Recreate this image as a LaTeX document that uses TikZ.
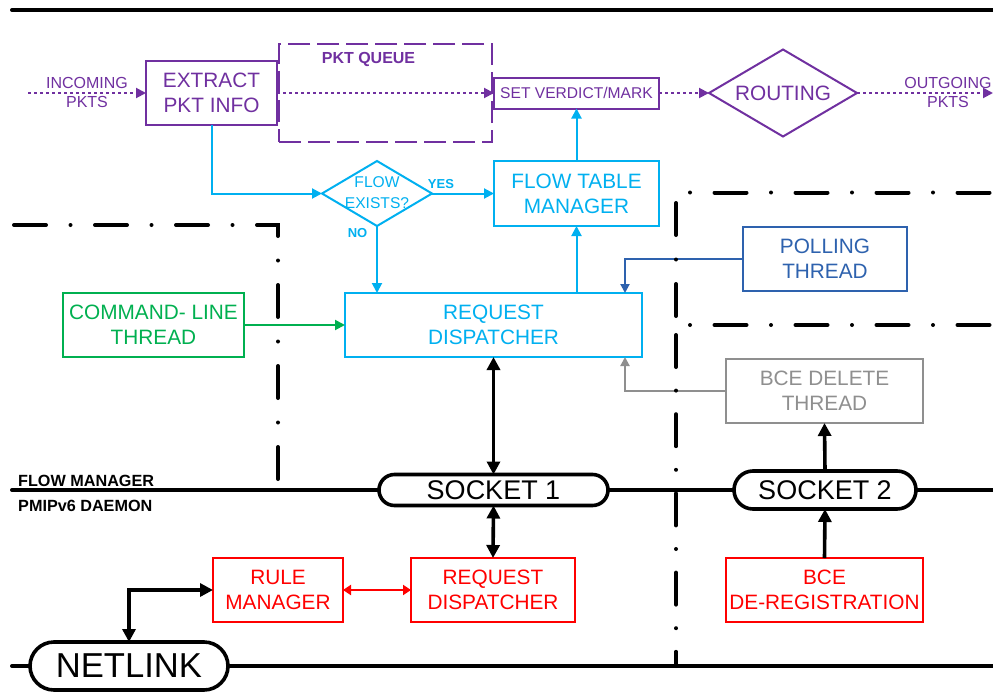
\documentclass[tikz,border=0pt]{standalone}
\usepackage{fontspec}
\setmainfont{Liberation Sans}
\usetikzlibrary{shapes.geometric,shapes.misc,arrows.meta}
\definecolor{fmpurple}{HTML}{7030A0}
\definecolor{fmcyan}{HTML}{00B0F0}
\definecolor{fmgreen}{HTML}{00B050}
\definecolor{fmblue}{HTML}{2E62AE}
\definecolor{fmgray}{HTML}{8F8F8F}
\definecolor{fmred}{HTML}{FF0000}
\tikzset{
  boxtext/.style={font=\fontsize{20.8}{25}\selectfont, align=center, inner sep=0pt},
  box/.style={rectangle, draw, line width=2pt, outer sep=0pt, boxtext},
  smalltext/.style={font=\fontsize{15.6}{21}\selectfont, align=center, inner sep=0pt},
  tagtext/.style={font=\bfseries\fontsize{13}{13}\selectfont, inner sep=0pt},
  pill/.style={rounded rectangle, draw=black, line width=3.6pt, fill=white, outer sep=0pt,
    inner sep=0pt, font=\fontsize{27}{30}\selectfont},
  thinarrow/.style={line width=2pt, -{Triangle[length=10pt,width=10pt]}},
  bigarrow/.style={line width=3.6pt, {Triangle[length=13pt,width=13pt]}-{Triangle[length=13pt,width=13pt]}},
  bigsingle/.style={line width=3.6pt, -{Triangle[length=13pt,width=13pt]}},
  pktflow/.style={fmpurple, line width=2pt, dash pattern=on 3pt off 3pt,
    -{Triangle[length=10pt,width=10pt]}},
  rail/.style={line width=4pt, line cap=round},
  dashdot/.style={line width=4pt, line cap=round, dash pattern=on 32pt off 24.5pt on 0pt off 24.5pt},
  dotdash/.style={line width=4pt, line cap=round, dash pattern=on 0pt off 24.5pt on 32pt off 24.5pt},
  dashdotB/.style={line width=4pt, line cap=round, dash pattern=on 32pt off 23.6pt on 0pt off 23.6pt},
}
\begin{document}
\begin{tikzpicture}[x=1pt,y=-1pt]
\useasboundingbox[fill=white] (0,0) rectangle (993,693);

% rails between the layers
\coordinate (topL) at (12,10);
\coordinate (topR) at (993,10);
\draw[rail] (topL) -- (topR);

% packet path
\node[draw=fmpurple, line width=2pt, dash pattern=on 22pt off 7pt, minimum width=213pt,
      minimum height=98pt, outer sep=0pt] (queue) at (385.5,93) {};
\node[tagtext, fmpurple, font=\bfseries\fontsize{16}{16}\selectfont] (queueLbl) at (368.5,59) {PKT QUEUE};
\node[box, draw=fmpurple, text=fmpurple, minimum width=131pt, minimum height=64pt] (extract) at (211.5,93) {EXTRACT\\PKT INFO};
\node[box, draw=fmpurple, text=fmpurple, smalltext, minimum width=165pt, minimum height=31pt] (setv) at (576.5,93) {SET VERDICT/MARK};
\node[diamond, draw=fmpurple, line width=2pt, minimum width=148pt, minimum height=87pt,
      inner sep=0pt, outer sep=0pt, shape aspect=1.7, text=fmpurple, boxtext] (routing) at (783,93) {ROUTING};

\coordinate (inStart) at (28,93);
\coordinate (outEnd) at (993,93);
\node[smalltext, text=fmpurple, font=\fontsize{16}{19.5}\selectfont] (inLbl) at (87,92.5) {INCOMING\\PKTS};
\node[smalltext, text=fmpurple, font=\fontsize{16}{19.5}\selectfont] (outLbl) at (948,92.5) {OUTGOING\\PKTS};
\draw[pktflow] (inStart) -- (extract.west);
\draw[pktflow] (extract.east) -- (setv.west);
\draw[pktflow] (setv.east) -- (routing.west);
\draw[pktflow] (routing.east) -- (outEnd);

% flow manager
\node[diamond, draw=fmcyan, line width=2pt, minimum width=110pt, minimum height=65pt,
      inner sep=0pt, outer sep=0pt] (exists) at (377,193.5) {};
\node[smalltext, text=fmcyan] (existsText) at (377,192.5) {FLOW\\EXISTS?};
\node[tagtext, text=fmcyan] (yesLbl) at (441,184) {YES};
\node[tagtext, text=fmcyan] (noLbl) at (357.5,233) {NO};
\node[box, draw=fmcyan, text=fmcyan, minimum width=165pt, minimum height=65pt] (ftm) at (576.5,193.5) {FLOW TABLE\\MANAGER};
\node[box, draw=fmcyan, text=fmcyan, minimum width=297pt, minimum height=64pt] (reqd) at (493.5,325) {REQUEST\\DISPATCHER};
\node[box, draw=fmgreen, text=fmgreen, minimum width=181pt, minimum height=64pt] (cmd) at (153.5,325) {COMMAND- LINE\\THREAD};
\node[box, draw=fmblue, text=fmblue, minimum width=164pt, minimum height=64pt] (polling) at (825,259) {POLLING\\THREAD};
\node[box, draw=fmgray, text=fmgray, minimum width=197pt, minimum height=64pt] (bcedel) at (824.5,391) {BCE DELETE\\THREAD};

\draw[fmcyan, thinarrow] (extract.south) |- (exists.west);
\draw[fmcyan, thinarrow] (exists.east) -- (ftm.west);
\draw[fmcyan, thinarrow] (exists.south) -- (exists.south |- reqd.north);
\draw[fmcyan, thinarrow] (ftm.south |- reqd.north) -- (ftm.south);
\draw[fmcyan, thinarrow] (ftm.north) -- (setv.south);
\draw[fmgreen, thinarrow] (cmd.east) -- (reqd.west);
\draw[fmblue, line width=2pt, -{Triangle[length=9pt,width=9pt]}] (polling.west) -| ([xshift=-17pt]reqd.north east);
\draw[fmgray, line width=2pt, -{Triangle[length=9pt,width=9pt]}] (bcedel.west) -| ([xshift=-17pt]reqd.south east);

% daemon side
\node[pill, minimum width=229pt, minimum height=31pt] (sock1) at (493.5,490) {SOCKET 1};
\node[pill, minimum width=182pt, minimum height=38pt] (sock2) at (825,490) {SOCKET 2};
\node[box, draw=fmred, text=fmred, minimum width=130pt, minimum height=64pt] (rule) at (278,590) {RULE\\MANAGER};
\node[box, draw=fmred, text=fmred, minimum width=164pt, minimum height=64pt] (rreqd) at (493,590) {REQUEST\\DISPATCHER};
\node[box, draw=fmred, text=fmred, minimum width=197pt, minimum height=64pt] (dereg) at (824.5,590) {BCE\\DE-REGISTRATION};
\node[pill, minimum width=198pt, minimum height=48pt, font=\fontsize{34.6}{36}\selectfont] (netlink) at (129,666) {NETLINK};

\coordinate (midL) at (12,490);
\coordinate (midR) at (993,490);
\coordinate (botL) at (12,666);
\coordinate (botR) at (993,666);
\draw[rail] (midL) -- (sock1.west);
\draw[rail] (sock1.east) -- (sock2.west);
\draw[rail] (sock2.east) -- (midR);
\draw[rail] (botL) -- (netlink.west);
\draw[rail] (netlink.east) -- (botR);

\node[tagtext, anchor=west, font=\bfseries\fontsize{16.2}{16}\selectfont] (fmLbl) at (18,480.5) {FLOW MANAGER};
\node[tagtext, anchor=west, font=\bfseries\fontsize{16.2}{16}\selectfont] (pmLbl) at (18,505.5) {PMIPv6 DAEMON};

\draw[bigarrow] (reqd.south) -- (sock1.north);
\draw[bigarrow] (sock1.south) -- (rreqd.north);
\draw[fmred, line width=2pt, {Triangle[length=8pt,width=10pt]}-{Triangle[length=8pt,width=10pt]}] (rule.east) -- (rreqd.west);
\draw[bigarrow] (netlink.north) |- (rule.west);
\draw[bigsingle] (dereg.north) -- (sock2.south);
\draw[bigsingle] (sock2.north) -- (bcedel.south);

% thread boundaries
\coordinate (lbA) at (14,225);
\coordinate (lbB) at (278,225);
\coordinate (lbC) at (278,482);
\draw[dashdot] (lbA) -- (lbB) -- (lbC);
\coordinate (rhA) at (690,192.5);
\coordinate (rhB) at (993,192.5);
\draw[dotdash] (rhA) -- (rhB);
\coordinate (rmA) at (690,325);
\coordinate (rmB) at (993,325);
\draw[dotdash] (rmA) -- (rmB);
\coordinate (rvA) at (676,203);
\coordinate (rvB) at (676,317);
\draw[dashdot] (rvA) -- (rvB);
\coordinate (rvC) at (676,335);
\coordinate (rvD) at (676,666);
\draw[dashdotB] (rvC) -- (rvD);
\end{tikzpicture}
\end{document}
